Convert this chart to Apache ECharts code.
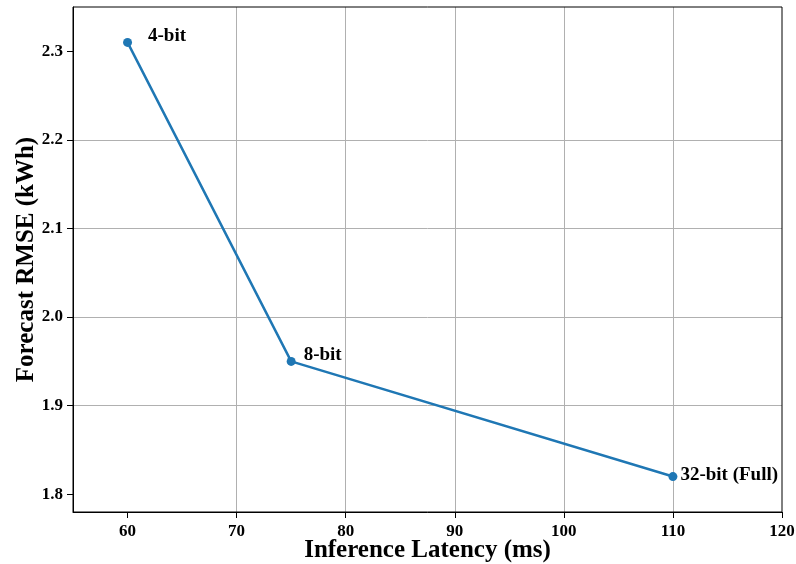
<!DOCTYPE html>
<html><head><meta charset="utf-8">
<script src="https://cdn.jsdelivr.net/npm/echarts@6/dist/echarts.min.js"></script>
<style>html,body{margin:0;padding:0;background:#fff}#c{width:796px;height:564px}</style>
</head><body><div id="c"></div>
<script>
const latency = [60, 75, 110];
const rmse = [2.31, 1.95, 1.82];
const pointLabels = ['4-bit', '8-bit', '32-bit (Full)'];
const xTicks = [60, 70, 80, 90, 100, 110, 120];
const yTicks = [1.8, 1.9, 2.0, 2.1, 2.2, 2.3];
const labelOffsets = [[11, -6], [3, -6], [-2, -1]];

const font = 'Liberation Serif, Times New Roman, serif';
const chart = echarts.init(document.getElementById('c'), null, {renderer: 'canvas'});
chart.setOption({
  animation: false,
  grid: {left: 73, right: 14, top: 7, bottom: 52, show: false, containLabel: false, outerBoundsMode: 'none'},
  xAxis: {
    type: 'value', min: 55, max: 120,
    name: 'Inference Latency (ms)', nameLocation: 'middle', nameGap: 26, nameMoveOverlap: false,
    nameTextStyle: {fontFamily: font, fontWeight: 'bold', fontSize: 25, color: '#000'},
    axisLine: {show: true, onZero: false, lineStyle: {color: '#000', width: 1}},
    axisTick: {show: true, length: 6, customValues: xTicks, lineStyle: {color: '#000'}},
    axisLabel: {customValues: xTicks, fontFamily: font, fontWeight: 'bold', fontSize: 17, color: '#000', margin: 11},
    splitLine: {show: true, showMinLine: false, showMaxLine: false, lineStyle: {color: '#b0b0b0', width: 1}}
  },
  yAxis: {
    type: 'value', min: 1.78, max: 2.35,
    name: 'Forecast RMSE (kWh)', nameLocation: 'middle', nameGap: 34, nameMoveOverlap: false,
    nameTextStyle: {fontFamily: font, fontWeight: 'bold', fontSize: 25, color: '#000'},
    axisLine: {show: true, onZero: false, lineStyle: {color: '#000', width: 1}},
    axisTick: {show: true, length: 6, customValues: yTicks, lineStyle: {color: '#000'}},
    axisLabel: {customValues: yTicks, fontFamily: font, fontWeight: 'bold', fontSize: 17, color: '#000', margin: 10,
      formatter: v => v.toFixed(1)},
    splitLine: {show: true, showMinLine: false, showMaxLine: false, lineStyle: {color: '#b0b0b0', width: 1}}
  },
  series: [{
    type: 'line',
    data: latency.map((x, i) => ({
      value: [x, rmse[i]],
      label: {show: true, position: 'right', offset: labelOffsets[i], formatter: pointLabels[i],
        fontFamily: font, fontWeight: 'bold', fontSize: 19, color: '#000'}
    })),
    symbol: 'circle', symbolSize: 9,
    lineStyle: {color: '#1f77b4', width: 2.5},
    itemStyle: {color: '#1f77b4'}
  }],
  graphic: [{
    type: 'rect', shape: {x: 73, y: 7, width: 709, height: 505},
    style: {fill: 'none', stroke: '#000', lineWidth: 1}, z: 100, silent: true
  }]
});
</script></body></html>
